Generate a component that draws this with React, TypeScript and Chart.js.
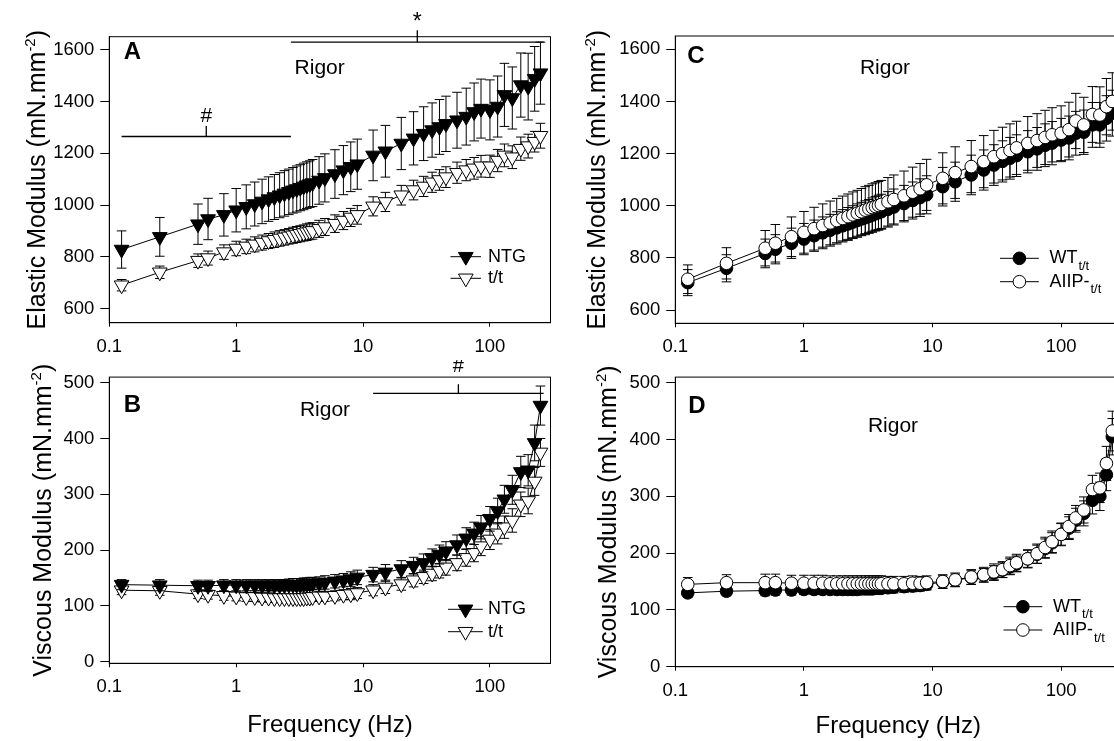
import React, { useEffect, useRef } from "react";
import { Chart, registerables } from "chart.js";

Chart.register(...registerables);

const FONT = "'Liberation Sans', Arial, Helvetica, sans-serif";

// ---------------- DATA ----------------
const frequencies = [
  0.125, 0.25, 0.5, 0.6, 0.8,
  1.0, 1.2, 1.4, 1.6, 1.8, 2.0, 2.2, 2.4, 2.6, 2.8, 3.0, 3.2, 3.4, 3.6, 3.8, 4.0,
  4.5, 5, 6, 7, 8, 9,
  12, 15, 20, 25, 30, 35, 40, 45,
  55, 65, 75, 85, 100, 115, 130, 150, 175, 200, 225, 250,
];

const xTickValues = [0.1, 1, 10, 100];
const elasticTicks = [600, 800, 1000, 1200, 1400, 1600];
const viscousTicks = [0, 100, 200, 300, 400, 500];

// Panel A: elastic modulus, NTG vs t/t
const elasticNTG = [
  828, 877, 926, 946, 962,
  980, 993, 1004, 1014, 1023, 1031, 1038, 1045, 1051, 1057, 1062, 1067, 1072, 1077, 1081, 1085,
  1095, 1105, 1120, 1135, 1148, 1158,
  1192, 1208, 1238, 1258, 1276, 1290, 1302, 1314,
  1328, 1342, 1360, 1373, 1368, 1381, 1426, 1414, 1464, 1458, 1488, 1510,
];
const elasticNTGErr = [
  72, 75, 78, 80, 82,
  84, 85, 85, 86, 86, 87, 87, 88, 88, 88, 89, 89, 90, 90, 90, 91,
  92, 93, 94, 95, 96, 97,
  98, 100, 101, 103, 104, 105, 106, 107,
  108, 110, 112, 114, 116, 118, 122, 120, 124, 129, 125, 120,
];
const elasticTT = [
  690, 740, 785, 795, 818,
  832, 840, 848, 855, 861, 866, 871, 875, 879, 883, 886, 889, 892, 895, 898, 900,
  908, 915, 928, 940, 952, 962,
  995, 1012, 1038, 1058, 1072, 1088, 1097, 1108,
  1125, 1135, 1142, 1150, 1150, 1172, 1192, 1185, 1218, 1228, 1245, 1268,
];
const elasticTTErr = [
  22, 24, 26, 27, 28,
  28, 28, 29, 29, 29, 30, 30, 30, 30, 31, 31, 31, 31, 32, 32, 32,
  33, 33, 34, 35, 35, 36,
  37, 37, 38, 38, 39, 39, 40, 40,
  41, 41, 42, 42, 43, 43, 44, 44, 45, 46, 40, 48,
];

// Panel B: viscous modulus, NTG vs t/t
const viscousNTG = [
  138, 137, 136, 136, 137,
  137, 137, 137, 137, 137, 137, 137, 137, 138, 138, 138, 138, 139, 139, 140, 140,
  141, 142, 144, 146, 148, 151,
  156, 160, 166, 172, 177, 186, 192, 198,
  209, 221, 230, 241, 256, 270, 291, 308, 340, 343, 392, 459,
];
const viscousNTGErr = [
  9, 10, 10, 10, 10,
  10, 10, 10, 10, 10, 10, 10, 10, 10, 11, 11, 11, 11, 11, 11, 11,
  11, 12, 12, 12, 13, 13,
  13, 14, 15, 15, 16, 16, 17, 17,
  18, 19, 20, 21, 22, 23, 25, 26, 28, 28, 32, 35,
];
const viscousTT = [
  128, 127, 121, 120, 118,
  117, 116, 116, 115, 115, 114, 114, 114, 114, 114, 114, 114, 114, 115, 115, 116,
  117, 117, 118, 120, 121, 123,
  128, 133, 139, 146, 152, 158, 163, 169,
  177, 186, 195, 207, 219, 230, 241, 253, 282, 288, 323, 375,
];
const viscousTTErr = [
  8, 8, 8, 8, 8,
  8, 8, 8, 8, 8, 8, 8, 8, 8, 8, 8, 8, 8, 8, 8, 8,
  9, 9, 9, 9, 10, 10,
  10, 11, 11, 12, 12, 13, 13, 14,
  14, 15, 16, 17, 18, 19, 20, 21, 22, 23, 25, 25,
];

// Panel C: elastic modulus, WT t/t vs AIIP- t/t
const elasticWT = [
  705, 760, 817, 833, 856,
  872, 885, 896, 906, 915, 923, 930, 937, 943, 949, 954, 959, 964, 969, 973, 977,
  986, 995, 1008, 1020, 1031, 1042,
  1073, 1092, 1118, 1137, 1156, 1170, 1182, 1192,
  1207, 1218, 1232, 1240, 1252, 1260, 1278, 1282, 1310, 1310, 1335, 1355,
];
const elasticWTErr = [
  50, 52, 55, 56, 58,
  60, 60, 61, 61, 62, 62, 63, 63, 64, 64, 65, 65, 66, 66, 67, 67,
  68, 69, 70, 71, 72, 73,
  74, 75, 76, 77, 78, 79, 80, 80,
  81, 82, 82, 83, 83, 84, 84, 85, 86, 86, 87, 88,
];
const elasticAIIP = [
  718, 779, 837, 856, 881,
  898, 912, 924, 934, 943, 951, 958, 965, 971, 977, 983, 988, 993, 997, 1001, 1005,
  1015, 1024, 1038, 1052, 1065, 1080,
  1105, 1127, 1150, 1169, 1188, 1200, 1212, 1222,
  1239, 1250, 1262, 1272, 1278, 1292, 1325, 1310, 1350, 1348, 1380, 1400,
];
const elasticAIIPErr = [
  55, 60, 68, 72, 76,
  80, 82, 83, 84, 85, 86, 87, 88, 88, 89, 90, 90, 91, 91, 92, 92,
  93, 94, 95, 96, 97, 98,
  98, 99, 100, 100, 101, 101, 102, 102,
  103, 103, 104, 104, 105, 105, 106, 106, 107, 108, 108, 110,
];

// Panel D: viscous modulus, WT t/t vs AIIP- t/t
const viscousWT = [
  130, 133, 134, 135, 135,
  136, 136, 136, 136, 136, 136, 136, 136, 136, 137, 137, 137, 137, 138, 138, 138,
  139, 140, 141, 142, 143, 145,
  149, 152, 157, 161, 165, 170, 176, 181,
  190, 198, 208, 218, 233, 244, 258, 270, 293, 300, 338, 405,
];
const viscousWTErr = [
  8, 8, 9, 9, 9,
  9, 9, 9, 9, 9, 9, 9, 9, 9, 9, 9, 9, 9, 9, 9, 9,
  9, 10, 10, 10, 10, 10,
  11, 11, 12, 12, 13, 13, 14, 14,
  15, 16, 17, 18, 19, 20, 21, 22, 24, 25, 28, 32,
];
const viscousAIIP = [
  145, 148, 148, 148, 147,
  147, 147, 147, 146, 146, 146, 146, 146, 146, 146, 146, 146, 146, 146, 146, 146,
  146, 146, 146, 147, 147, 148,
  150, 153, 158, 162, 167, 171, 178, 183,
  190, 199, 210, 220, 233, 247, 262, 276, 312, 315, 358, 415,
];
const viscousAIIPErr = [
  12, 14, 15, 15, 14,
  14, 14, 14, 14, 14, 14, 14, 14, 14, 14, 14, 14, 14, 14, 14, 14,
  13, 13, 13, 13, 12, 12,
  12, 12, 13, 13, 14, 14, 15, 15,
  16, 17, 18, 19, 20, 21, 22, 23, 25, 26, 30, 35,
];

// ---------------- PANEL SPECS ----------------
type Series = {
  label: string;
  sub?: string;
  values: number[];
  errors: number[];
  shape: "triangle" | "circle";
  filled: boolean;
  order: number;
};

type Sig = { x1: number; x2: number; y: number; mark: string; tickUp: number; markBaseline: number; font: number };

type Spec = {
  key: string;
  left: number; top: number; width: number; height: number;
  area: { l: number; t: number; r: number; b: number };
  yMin: number; yMax: number; yTicks: number[];
  letter: string; letterX: number; letterY: number;
  rigorX: number; rigorY: number;
  yTitle: string; yTitleX: number;
  xTitleX?: number; xTitleY?: number;
  legend: { x1: number; x2: number; mx: number; tx: number; rows: number[] };
  series: Series[];
  sigs: Sig[];
};

const TRI_R = 8.5;
const CIRC_R = 6.3;

const specs: Spec[] = [
  {
    key: "A", left: 0, top: 0, width: 560, height: 360,
    area: { l: 109.3, t: 36.7, r: 551, b: 322.7 },
    yMin: 545, yMax: 1651, yTicks: elasticTicks,
    letter: "A", letterX: 132.5, letterY: 59.3,
    rigorX: 319.7, rigorY: 73.5,
    yTitle: "Elastic Modulus (mN.mm", yTitleX: 45,
    legend: { x1: 450.5, x2: 481, mx: 465.8, tx: 488, rows: [256.7, 278.3] },
    series: [
      { label: "NTG", values: elasticNTG, errors: elasticNTGErr, shape: "triangle", filled: true, order: 0 },
      { label: "t/t", values: elasticTT, errors: elasticTTErr, shape: "triangle", filled: false, order: 1 },
    ],
    sigs: [
      { x1: 0.125, x2: 2.7, y: 1265, mark: "#", tickUp: 10.5, markBaseline: 122, font: 21 },
      { x1: 2.7, x2: 265, y: 1630, mark: "*", tickUp: 12, markBaseline: 29, font: 23 },
    ],
  },
  {
    key: "B", left: 0, top: 360, width: 560, height: 381,
    area: { l: 109.3, t: 9, r: 551, b: 303.3 },
    yMin: -3, yMax: 510, yTicks: viscousTicks,
    letter: "B", letterX: 132.5, letterY: 52,
    rigorX: 325, rigorY: 56,
    yTitle: "Viscous Modulus (mN.mm", yTitleX: 51,
    xTitleX: 330, xTitleY: 372,
    legend: { x1: 448, x2: 482.8, mx: 465.5, tx: 488, rows: [249.3, 271.7] },
    series: [
      { label: "NTG", values: viscousNTG, errors: viscousNTGErr, shape: "triangle", filled: true, order: 0 },
      { label: "t/t", values: viscousTT, errors: viscousTTErr, shape: "triangle", filled: false, order: 1 },
    ],
    sigs: [
      { x1: 12, x2: 265, y: 481, mark: "#", tickUp: 9, markBaseline: 12, font: 20 },
    ],
  },
  {
    key: "C", left: 560, top: 0, width: 570, height: 360,
    area: { l: 115.3, t: 36, r: 562.5, b: 323.3 },
    yMin: 549, yMax: 1651, yTicks: elasticTicks,
    letter: "C", letterX: 136, letterY: 62.5,
    rigorX: 325, rigorY: 74,
    yTitle: "Elastic Modulus (mN.mm", yTitleX: 45,
    legend: { x1: 440, x2: 478.8, mx: 459.4, tx: 489.4, rows: [258.3, 281.7] },
    series: [
      { label: "WT", sub: "t/t", values: elasticWT, errors: elasticWTErr, shape: "circle", filled: true, order: 1 },
      { label: "AIIP-", sub: "t/t", values: elasticAIIP, errors: elasticAIIPErr, shape: "circle", filled: false, order: 0 },
    ],
    sigs: [],
  },
  {
    key: "D", left: 560, top: 360, width: 570, height: 381,
    area: { l: 115.3, t: 12.2, r: 562.5, b: 306.7 },
    yMin: 0, yMax: 510, yTicks: viscousTicks,
    letter: "D", letterX: 137, letterY: 53,
    rigorX: 333, rigorY: 71.7,
    yTitle: "Viscous Modulus (mN.mm", yTitleX: 56,
    xTitleX: 338.3, xTitleY: 373,
    legend: { x1: 443.5, x2: 482.3, mx: 462.9, tx: 493, rows: [246.7, 270] },
    series: [
      { label: "WT", sub: "t/t", values: viscousWT, errors: viscousWTErr, shape: "circle", filled: true, order: 1 },
      { label: "AIIP-", sub: "t/t", values: viscousAIIP, errors: viscousAIIPErr, shape: "circle", filled: false, order: 0 },
    ],
    sigs: [],
  },
];

// ---------------- DRAW HELPERS ----------------
function drawMarker(ctx: CanvasRenderingContext2D, shape: string, filled: boolean, x: number, y: number) {
  ctx.beginPath();
  if (shape === "triangle") {
    const r = TRI_R;
    ctx.moveTo(x, y + r);
    ctx.lineTo(x - r * 0.866, y - r / 2);
    ctx.lineTo(x + r * 0.866, y - r / 2);
    ctx.closePath();
  } else {
    ctx.arc(x, y, CIRC_R, 0, Math.PI * 2);
  }
  ctx.fillStyle = filled ? "#000" : "#fff";
  ctx.fill();
  ctx.lineWidth = 1;
  ctx.strokeStyle = "#000";
  ctx.stroke();
}

function makePlugin(spec: Spec) {
  return {
    id: "panel" + spec.key,
    beforeDatasetsDraw(chart: any) {
      const ctx: CanvasRenderingContext2D = chart.ctx;
      const a = chart.chartArea;
      ctx.save();
      ctx.strokeStyle = "#000";
      ctx.lineWidth = 1;
      ctx.strokeRect(a.left, a.top, a.right - a.left, a.bottom - a.top);
      // significance bars
      const xs = chart.scales.x;
      const ys = chart.scales.y;
      spec.sigs.forEach((s) => {
        const px1 = xs.getPixelForValue(s.x1);
        const px2 = xs.getPixelForValue(s.x2);
        const py = ys.getPixelForValue(s.y);
        const mid = (px1 + px2) / 2;
        ctx.lineWidth = 1.3;
        ctx.beginPath();
        ctx.moveTo(px1, py);
        ctx.lineTo(px2, py);
        ctx.moveTo(mid, py);
        ctx.lineTo(mid, py - s.tickUp);
        ctx.stroke();
        ctx.fillStyle = "#000";
        ctx.font = `${s.font}px ${FONT}`;
        ctx.textAlign = "center";
        ctx.textBaseline = "alphabetic";
        ctx.fillText(s.mark, mid, s.markBaseline);
      });
      ctx.restore();
    },
    beforeDatasetDraw(chart: any, args: any) {
      const ds = chart.data.datasets[args.index];
      if (!ds || !ds.errors) return;
      const ctx: CanvasRenderingContext2D = chart.ctx;
      const xs = chart.scales.x;
      const ys = chart.scales.y;
      ctx.save();
      ctx.strokeStyle = "#000";
      ctx.lineWidth = 1;
      ctx.beginPath();
      ds.data.forEach((p: any, i: number) => {
        const e = ds.errors[i];
        const px = xs.getPixelForValue(p.x);
        const pTop = ys.getPixelForValue(p.y + e);
        const pBot = ys.getPixelForValue(p.y - e);
        ctx.moveTo(px, pTop);
        ctx.lineTo(px, pBot);
        ctx.moveTo(px - 4.8, pTop);
        ctx.lineTo(px + 4.8, pTop);
        ctx.moveTo(px - 4.8, pBot);
        ctx.lineTo(px + 4.8, pBot);
      });
      ctx.stroke();
      ctx.restore();
    },
    afterDraw(chart: any) {
      const ctx: CanvasRenderingContext2D = chart.ctx;
      ctx.save();
      ctx.fillStyle = "#000";
      // panel letter
      ctx.font = `bold 24px ${FONT}`;
      ctx.textAlign = "center";
      ctx.textBaseline = "alphabetic";
      ctx.fillText(spec.letter, spec.letterX, spec.letterY);
      // Rigor
      ctx.font = `21px ${FONT}`;
      ctx.fillText("Rigor", spec.rigorX, spec.rigorY);
      // x title
      if (spec.xTitleX !== undefined && spec.xTitleY !== undefined) {
        ctx.font = `24px ${FONT}`;
        ctx.fillText("Frequency (Hz)", spec.xTitleX, spec.xTitleY);
      }
      // y title with superscript
      const a = chart.chartArea;
      const cy = (a.top + a.bottom) / 2;
      ctx.translate(spec.yTitleX, cy);
      ctx.rotate(-Math.PI / 2);
      ctx.textAlign = "left";
      const mainFont = `25px ${FONT}`;
      const supFont = `15px ${FONT}`;
      ctx.font = mainFont;
      const w1 = ctx.measureText(spec.yTitle).width;
      const w3 = ctx.measureText(")").width;
      ctx.font = supFont;
      const w2 = ctx.measureText("-2").width;
      let x0 = -(w1 + w2 + w3) / 2;
      ctx.font = mainFont;
      ctx.fillText(spec.yTitle, x0, 0);
      x0 += w1;
      ctx.font = supFont;
      ctx.fillText("-2", x0, -10);
      x0 += w2;
      ctx.font = mainFont;
      ctx.fillText(")", x0, 0);
      ctx.restore();

      // legend
      ctx.save();
      const lg = spec.legend;
      spec.series.forEach((s, i) => {
        const y = lg.rows[i];
        ctx.strokeStyle = "#000";
        ctx.lineWidth = 1;
        ctx.beginPath();
        ctx.moveTo(lg.x1, y);
        ctx.lineTo(lg.x2, y);
        ctx.stroke();
        drawMarker(ctx, s.shape, s.filled, lg.mx, y);
        ctx.fillStyle = "#000";
        ctx.font = `18px ${FONT}`;
        ctx.textAlign = "left";
        ctx.textBaseline = "middle";
        ctx.fillText(s.label, lg.tx, y);
        if (s.sub) {
          const w = ctx.measureText(s.label).width;
          ctx.font = `13px ${FONT}`;
          ctx.fillText(s.sub, lg.tx + w + 1, y + 8);
        }
      });
      ctx.restore();
    },
  };
}

function Panel({ spec }: { spec: Spec }) {
  const ref = useRef<HTMLCanvasElement | null>(null);
  useEffect(() => {
    if (!ref.current) return;
    const tickFont = { family: FONT, size: 18.5 };
    const chart = new Chart(ref.current, {
      type: "line",
      data: {
        datasets: spec.series.map((s) => ({
          label: s.label,
          data: frequencies.map((f, i) => ({ x: f, y: s.values[i] })),
          errors: s.errors,
          borderColor: "#000",
          borderWidth: 1,
          tension: 0,
          fill: false,
          pointStyle: s.shape,
          pointRotation: s.shape === "triangle" ? 180 : 0,
          pointRadius: s.shape === "triangle" ? TRI_R : CIRC_R,
          pointBackgroundColor: s.filled ? "#000" : "#fff",
          pointBorderColor: "#000",
          pointBorderWidth: 1,
          order: s.order,
          clip: 10,
        })) as any,
      },
      options: {
        responsive: false,
        animation: false,
        devicePixelRatio: 1,
        events: [],
        layout: {
          padding: { left: 0, top: spec.area.t, right: spec.width - spec.area.r, bottom: 0 },
        },
        scales: {
          x: {
            type: "logarithmic",
            position: "bottom",
            min: 0.1,
            max: 300,
            afterBuildTicks: (scale: any) => {
              scale.ticks = xTickValues.map((v) => ({ value: v }));
            },
            afterFit: (scale: any) => {
              scale.height = spec.height - spec.area.b;
            },
            ticks: {
              callback: (v: any) => String(v),
              font: tickFont,
              color: "#000",
              padding: 9,
              maxRotation: 0,
              autoSkip: false,
            },
            grid: { drawOnChartArea: false, drawTicks: true, tickLength: 4, color: "#000", lineWidth: 1 },
            border: { display: true, color: "#000", width: 1 },
          },
          y: {
            type: "linear",
            position: "left",
            min: spec.yMin,
            max: spec.yMax,
            afterBuildTicks: (scale: any) => {
              scale.ticks = spec.yTicks.map((v) => ({ value: v }));
            },
            afterFit: (scale: any) => {
              scale.width = spec.area.l;
            },
            ticks: {
              callback: (v: any) => String(v),
              font: tickFont,
              color: "#000",
              padding: 6,
              autoSkip: false,
            },
            grid: { drawOnChartArea: false, drawTicks: true, tickLength: 9, color: "#000", lineWidth: 1 },
            border: { display: true, color: "#000", width: 1 },
          },
        },
        plugins: {
          legend: { display: false },
          tooltip: { enabled: false },
        },
      } as any,
      plugins: [makePlugin(spec) as any],
    });
    return () => chart.destroy();
  }, [spec]);
  return (
    <canvas
      ref={ref}
      width={spec.width}
      height={spec.height}
      style={{ position: "absolute", left: spec.left, top: spec.top, width: spec.width, height: spec.height }}
    />
  );
}

export default function App() {
  return (
    <div
      style={{
        position: "fixed",
        left: 0,
        top: 0,
        width: 1114,
        height: 741,
        overflow: "hidden",
        background: "#fff",
      }}
    >
      {specs.map((s) => (
        <Panel key={s.key} spec={s} />
      ))}
    </div>
  );
}
